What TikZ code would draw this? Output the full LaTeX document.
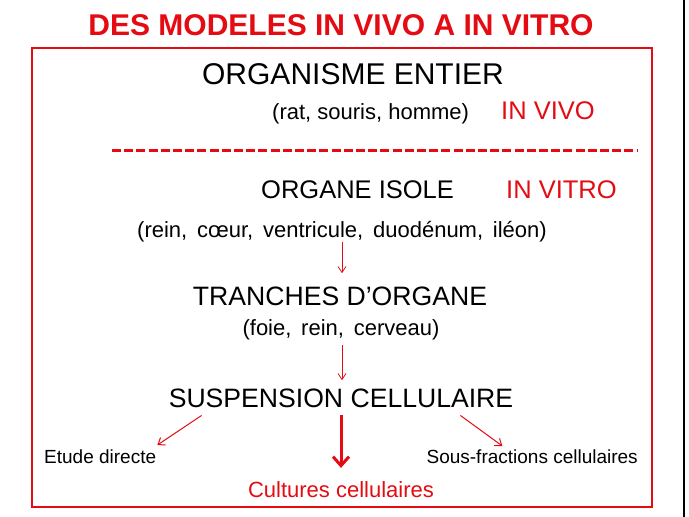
\documentclass[tikz,border=0pt]{standalone}
\usepackage{fontspec}
\setmainfont{Liberation Sans}
\usetikzlibrary{arrows.meta}
\definecolor{myred}{RGB}{228,12,18}
\tikzset{
  txt/.style={inner sep=0pt, anchor=base},
  big/.style={txt, font=\fontsize{26.6}{26.6}\selectfont},
  small/.style={txt, font=\fontsize{22}{22}\selectfont},
  tiny/.style={txt, font=\fontsize{19}{19}\selectfont},
  thinarr/.style={myred, line width=0.8pt, -{Straight Barb[length=6pt,width=8pt]}},
  diagarr/.style={myred, line width=1pt, -{Straight Barb[length=6pt,width=9pt]}},
  thickarr/.style={myred, line width=3pt, -{Straight Barb[length=9pt,width=16pt]}}
}
\begin{document}
\begin{tikzpicture}[x=1pt,y=-1pt]
\useasboundingbox (0,0) rectangle (689,517);
\fill[white] (0,0) rectangle (689,517);
% right black edge
\draw[black, line width=2pt] (684,0) -- (684,517);
% frame
\draw[myred, line width=2pt] (31.5,48) rectangle (652,506.5);
% title
\node[txt, myred, font=\fontsize{30}{30}\selectfont\bfseries] (title) at (341,35) {DES MODELES IN VIVO A IN VITRO};
% texts
\node[txt, font=\fontsize{30}{30}\selectfont] (org) at (353,84) {ORGANISME ENTIER};
\node[small, anchor=base west] (rat) at (272,119) {(rat, souris, homme)};
\node[txt, anchor=base west, myred, font=\fontsize{25.5}{25.5}\selectfont] (invivo) at (501,119) {IN VIVO};
\coordinate (dl) at (112,150);
\coordinate (dr) at (637,150);
\draw[myred, line width=3pt, dash pattern=on 9pt off 3.2pt] (dl) -- (dr);
\node[txt, anchor=base west, font=\fontsize{25.5}{25.5}\selectfont] (organe) at (261,198) {ORGANE ISOLE};
\node[txt, anchor=base west, myred, font=\fontsize{25.5}{25.5}\selectfont] (invitro) at (506,198) {IN VITRO};
\node[small] (rein) at (342,237) {(rein, \,cœur, \,ventricule, \,duodénum, \,iléon)};
\node[big] (tranches) at (340,305) {TRANCHES D’ORGANE};
\node[small] (foie) at (341,335) {(foie, \,rein, \,cerveau)};
\node[big] (susp) at (341,407) {SUSPENSION CELLULAIRE};
\node[tiny, anchor=base west] (etude) at (44,463) {Etude directe};
\node[tiny, anchor=base east] (sous) at (638,463) {Sous-fractions cellulaires};
\node[small, myred] (cult) at (341,497) {Cultures cellulaires};
% arrows
\coordinate (ax) at (342,0);
\draw[thinarr] ([yshift=0pt]rein.south -| ax) -- ([yshift=13pt]tranches.north -| ax);
\draw[thinarr] ([yshift=-5pt]foie.south -| ax) -- ([yshift=8pt]susp.north -| ax);
\draw[diagarr] ([shift={(33,8)}]susp.south west) -- ([shift={(1,-4)}]etude.north east);
\draw[diagarr] ([shift={(-53,8)}]susp.south east) -- ([shift={(76,-3)}]sous.north west);
\draw[thickarr] ([yshift=-8pt]susp.south) -- ([yshift=13pt]cult.north);
\end{tikzpicture}
\end{document}
